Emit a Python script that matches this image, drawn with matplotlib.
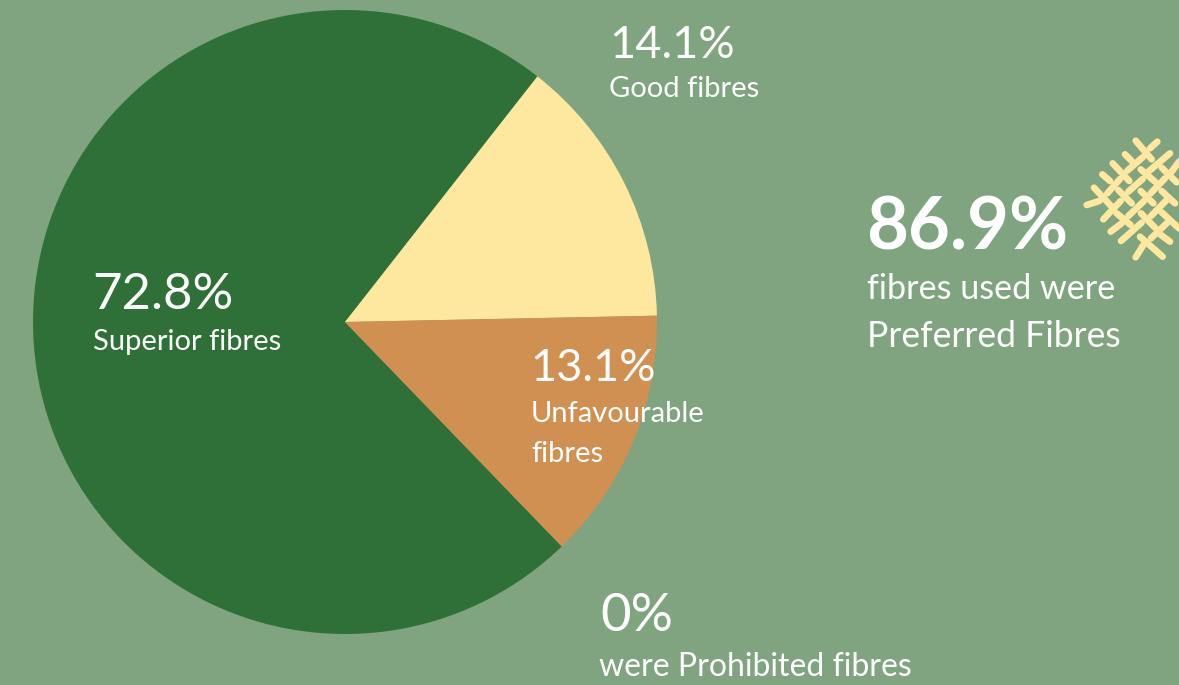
import matplotlib
matplotlib.use("Agg")
import matplotlib.pyplot as plt

plt.rcParams['font.family'] = ['Lato', 'DejaVu Sans']

categories = ["Superior fibres", "Good fibres", "Unfavourable fibres", "Prohibited fibres"]
values = [72.8, 14.1, 13.1, 0]
colors = ["#2E7038", "#FEE79F", "#D09052", "#7FA47F"]
bg = "#7FA47F"
icon_color = "#FEE79F"

W, H = 1179, 685

crop_x, crop_y, crop_scale = 1070, 125, 3
strokes_down = [(197, 47, 245, 103), (128, 115, 178, 168), (72, 188, 125, 245),
                (145, 195, 185, 235), (212, 133, 255, 170), (275, 128, 320, 172),
                (212, 198, 250, 235), (275, 198, 315, 235), (140, 265, 182, 300),
                (213, 265, 255, 308), (275, 262, 327, 310), (273, 330, 300, 350),
                (210, 335, 278, 395), (97, 148, 120, 168), (165, 88, 185, 108)]
strokes_up = [(240, 70, 262, 50), (172, 137, 220, 95), (235, 140, 300, 85),
              (112, 205, 150, 162), (175, 200, 218, 162), (242, 205, 285, 160),
              (100, 283, 152, 228), (175, 273, 222, 228), (243, 273, 290, 225),
              (122, 320, 155, 295), (153, 348, 215, 293), (243, 340, 290, 295),
              (197, 397, 220, 360), (50, 240, 88, 228), (305, 140, 327, 110)]

fig = plt.figure(figsize=(W / 100, H / 100), dpi=100, facecolor=bg)

# pie axes, sized in pixels
cx, cy, r = 345, 322, 312
ax = fig.add_axes([(cx - r) / W, 1 - (cy + r) / H, 2 * r / W, 2 * r / H])
ax.pie(values, colors=colors, startangle=-46, counterclock=False, radius=1,
       wedgeprops=dict(linewidth=0))
ax.set_xlim(-1, 1)
ax.set_ylim(-1, 1)


def label(x, y, s, size, weight="normal"):
    fig.text(x / W, 1 - y / H, s, color="white", fontsize=size, weight=weight,
             va="baseline", ha="left")


label(92, 309, "72.8%", 36.5)
label(93, 350, "Superior fibres", 21)
label(609, 58, "14.1%", 32.5)
label(609, 97, "Good fibres", 21)
label(530, 381, "13.1%", 32.5)
label(531, 422, "Unfavourable", 21)
label(531, 462, "fibres", 21)
label(600, 631, "0%", 38)
label(599, 676, "were Prohibited fibres", 23)
label(866, 250, "86.9%", 52, "bold")
label(867, 299, "fibres used were", 24.6)
label(867, 347, "Preferred Fibres", 25.6)

# woven fibre icon
overlay = fig.add_axes([0, 0, 1, 1])
overlay.set_xlim(0, W)
overlay.set_ylim(H, 0)
overlay.axis("off")
for x0, y0, x1, y1 in strokes_down + strokes_up:
    overlay.plot([crop_x + x0 / crop_scale, crop_x + x1 / crop_scale],
                 [crop_y + y0 / crop_scale, crop_y + y1 / crop_scale],
                 color=icon_color, lw=4.8, solid_capstyle="round")

fig.savefig("out.png", dpi=100, facecolor=bg)
